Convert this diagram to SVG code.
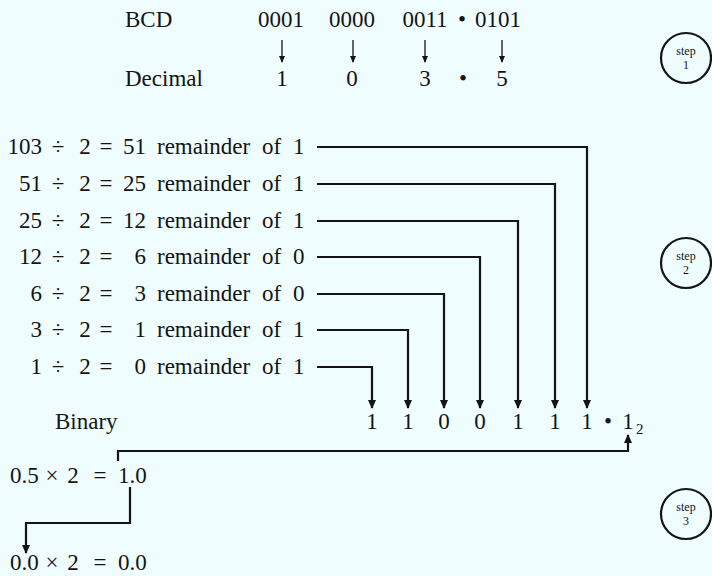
<svg xmlns="http://www.w3.org/2000/svg" width="712" height="576" viewBox="0 0 712 576">
  <style>
    .t { font-family: "Liberation Serif", "Times New Roman", serif; font-size: 23px; fill: #141414; }
    .m { text-anchor: middle; }
    .e { text-anchor: end; }
    .sub { font-size: 15px; }
    .lbl { font-family: "Liberation Serif", "Times New Roman", serif; font-size: 12px; fill: #141414; text-anchor: middle; }
    .wire { fill: none; stroke: #141414; stroke-width: 2.2; stroke-linejoin: miter; }
    .thin { fill: none; stroke: #141414; stroke-width: 1.3; }
    .ring { fill: none; stroke: #141414; stroke-width: 2.2; }
  </style>
  <defs>
    <marker id="head" markerUnits="userSpaceOnUse" markerWidth="10" markerHeight="10" refX="8" refY="5" orient="auto">
      <path d="M0,1 L9,5 L0,9 Z" fill="#141414"/>
    </marker>
    <marker id="small" markerUnits="userSpaceOnUse" markerWidth="8" markerHeight="8" refX="6" refY="4" orient="auto">
      <path d="M0,1 L7,4 L0,7 Z" fill="#141414"/>
    </marker>
  </defs>
  <rect width="712" height="576" fill="#effdfe"/>

  <!-- step 1: BCD digits to decimal -->
  <g id="bcd-row">
    <text class="t" x="125" y="27">BCD</text>
    <text class="t m" x="281" y="27">0001</text>
    <text class="t m" x="352" y="27">0000</text>
    <text class="t m" x="425" y="27">0011</text>
    <text class="t m" x="462" y="27">•</text>
    <text class="t m" x="498" y="27">0101</text>
  </g>
  <g id="decimal-row">
    <text class="t" x="125" y="86">Decimal</text>
    <text class="t m" x="282" y="86">1</text>
    <text class="t m" x="352" y="86">0</text>
    <text class="t m" x="425" y="86">3</text>
    <text class="t m" x="463" y="86">•</text>
    <text class="t m" x="502" y="86">5</text>
  </g>

  <!-- step 2: repeated division by 2 -->
  <g id="div-103">
    <text class="t e" x="42" y="154">103</text><text class="t m" x="58" y="154">÷</text><text class="t m" x="85" y="154">2</text><text class="t m" x="106" y="154">=</text><text class="t e" x="146" y="154">51</text><text class="t" x="157" y="154" word-spacing="6">remainder of 1</text>
  </g>
  <g id="div-51">
    <text class="t e" x="42" y="191">51</text><text class="t m" x="58" y="191">÷</text><text class="t m" x="85" y="191">2</text><text class="t m" x="106" y="191">=</text><text class="t e" x="146" y="191">25</text><text class="t" x="157" y="191" word-spacing="6">remainder of 1</text>
  </g>
  <g id="div-25">
    <text class="t e" x="42" y="228">25</text><text class="t m" x="58" y="228">÷</text><text class="t m" x="85" y="228">2</text><text class="t m" x="106" y="228">=</text><text class="t e" x="146" y="228">12</text><text class="t" x="157" y="228" word-spacing="6">remainder of 1</text>
  </g>
  <g id="div-12">
    <text class="t e" x="42" y="264">12</text><text class="t m" x="58" y="264">÷</text><text class="t m" x="85" y="264">2</text><text class="t m" x="106" y="264">=</text><text class="t e" x="146" y="264">6</text><text class="t" x="157" y="264" word-spacing="6">remainder of 0</text>
  </g>
  <g id="div-6">
    <text class="t e" x="42" y="301">6</text><text class="t m" x="58" y="301">÷</text><text class="t m" x="85" y="301">2</text><text class="t m" x="106" y="301">=</text><text class="t e" x="146" y="301">3</text><text class="t" x="157" y="301" word-spacing="6">remainder of 0</text>
  </g>
  <g id="div-3">
    <text class="t e" x="42" y="337">3</text><text class="t m" x="58" y="337">÷</text><text class="t m" x="85" y="337">2</text><text class="t m" x="106" y="337">=</text><text class="t e" x="146" y="337">1</text><text class="t" x="157" y="337" word-spacing="6">remainder of 1</text>
  </g>
  <g id="div-1">
    <text class="t e" x="42" y="374">1</text><text class="t m" x="58" y="374">÷</text><text class="t m" x="85" y="374">2</text><text class="t m" x="106" y="374">=</text><text class="t e" x="146" y="374">0</text><text class="t" x="157" y="374" word-spacing="6">remainder of 1</text>
  </g>

  <g id="binary-row">
    <text class="t" x="55" y="429">Binary</text>
    <text class="t m" x="372" y="429">1</text>
    <text class="t m" x="408" y="429">1</text>
    <text class="t m" x="444" y="429">0</text>
    <text class="t m" x="480" y="429">0</text>
    <text class="t m" x="518" y="429">1</text>
    <text class="t m" x="555" y="429">1</text>
    <text class="t m" x="587" y="429">1</text>
    <text class="t m" x="608" y="429">•</text>
    <text class="t m" x="628" y="429">1</text>
    <text class="t sub" x="636" y="434">2</text>
  </g>

  <!-- step 3: fraction by repeated multiplication -->
  <g id="mul-05">
    <text class="t" x="10" y="483">0.5</text><text class="t m" x="52" y="483">×</text><text class="t m" x="73" y="483">2</text><text class="t m" x="100" y="483">=</text><text class="t" x="118" y="483">1.0</text>
  </g>
  <g id="mul-00">
    <text class="t" x="10" y="570">0.0</text><text class="t m" x="52" y="570">×</text><text class="t m" x="73" y="570">2</text><text class="t m" x="100" y="570">=</text><text class="t" x="118" y="570">0.0</text>
  </g>

  <g id="step-1">
    <circle class="ring" cx="686" cy="58" r="25"/>
    <text class="lbl" x="686" y="55">step</text>
    <text class="lbl" x="686" y="69">1</text>
  </g>
  <g id="step-2">
    <circle class="ring" cx="686" cy="263" r="25"/>
    <text class="lbl" x="686" y="260">step</text>
    <text class="lbl" x="686" y="274">2</text>
  </g>
  <g id="step-3">
    <circle class="ring" cx="686" cy="514" r="25"/>
    <text class="lbl" x="686" y="511">step</text>
    <text class="lbl" x="686" y="525">3</text>
  </g>

  <g id="connectors">
    <path class="thin" d="M282 40 V62" marker-end="url(#small)"/>
    <path class="thin" d="M353 40 V62" marker-end="url(#small)"/>
    <path class="thin" d="M425 40 V62" marker-end="url(#small)"/>
    <path class="thin" d="M502 40 V62" marker-end="url(#small)"/>

    <path class="wire" d="M317 147 H587 V408" marker-end="url(#head)"/>
    <path class="wire" d="M317 184 H555 V408" marker-end="url(#head)"/>
    <path class="wire" d="M317 221 H518 V408" marker-end="url(#head)"/>
    <path class="wire" d="M317 257 H480 V408" marker-end="url(#head)"/>
    <path class="wire" d="M317 294 H444 V408" marker-end="url(#head)"/>
    <path class="wire" d="M317 330 H408 V408" marker-end="url(#head)"/>
    <path class="wire" d="M317 367 H372 V408" marker-end="url(#head)"/>

    <path class="wire" d="M118 461 V451 H628 V435" marker-end="url(#head)"/>
    <path class="wire" d="M130 487 V523 H26 V553" marker-end="url(#head)"/>
  </g>
</svg>
